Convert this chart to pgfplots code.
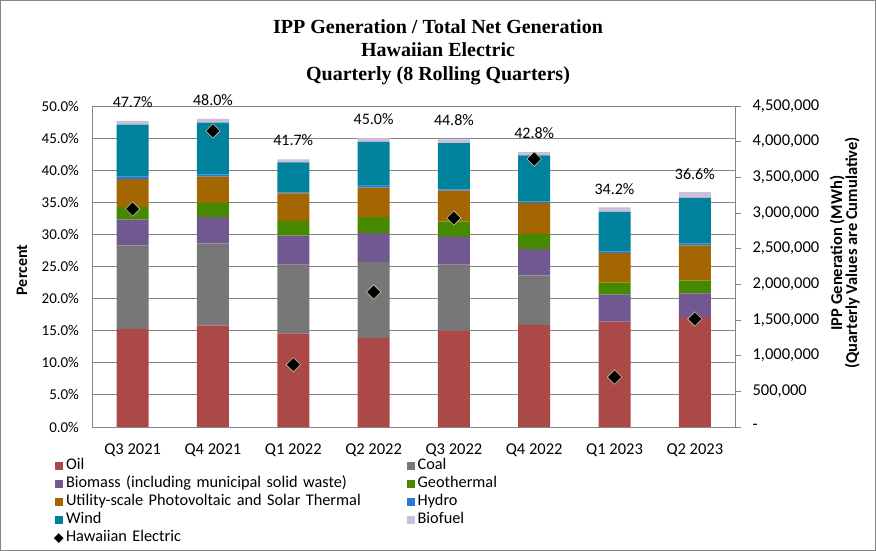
\documentclass[border=0pt]{standalone}
\usepackage{fontspec}
\setmainfont{Carlito}
\newfontfamily\titlefont{Liberation Serif}
\usepackage{pgfplots}
\pgfplotsset{compat=1.18}

\definecolor{oil}{RGB}{170,73,72}
\definecolor{coal}{RGB}{119,119,119}
\definecolor{biomass}{RGB}{113,88,145}
\definecolor{geo}{RGB}{70,136,0}
\definecolor{solar}{RGB}{163,102,0}
\definecolor{hydro}{RGB}{40,120,220}
\definecolor{wind}{RGB}{0,130,156}
\definecolor{biofuel}{RGB}{202,190,218}
\definecolor{axc}{RGB}{134,134,134}
\definecolor{diamc}{RGB}{200,200,160}

\begin{document}
\begin{tikzpicture}
\useasboundingbox (0pt,0pt) rectangle (876pt,551pt);
\draw[axc, line width=0.8pt] (0.5pt,0.5pt) rectangle (875.5pt,550.5pt);
\node[align=center, font=\titlefont\bfseries\fontsize{20}{23.5}\selectfont] at (438pt,499pt)
  {IPP Generation / Total Net Generation\\Hawaiian Electric\\Quarterly (8 Rolling Quarters)};

\begin{axis}[
    at={(92.5pt,124pt)}, anchor=south west,
    scale only axis, width=642.5pt, height=321pt,
    ybar stacked, bar width=32pt,
    xmin=-0.5, xmax=7.5, ymin=0, ymax=50,
    xtick={0,...,7},
    xticklabels={Q3 2021, Q4 2021, Q1 2022, Q2 2022, Q3 2022, Q4 2022, Q1 2023, Q2 2023},
    ytick={0,5,...,50},
    yticklabels={0.0\%,5.0\%,10.0\%,15.0\%,20.0\%,25.0\%,30.0\%,35.0\%,40.0\%,45.0\%,50.0\%},
    axis x line*=bottom, axis y line*=left,
    axis line style={axc, line width=0.8pt},
    major tick length=0pt,
    ymajorgrids, grid style={axc, line width=0.8pt},
    yticklabel style={xshift=-10pt, font=\fontsize{15}{18}\selectfont},
    xticklabel style={yshift=-13pt, font=\fontsize{16.5}{19}\selectfont},
    ylabel={Percent},
    ylabel style={at={(rel axis cs:-0.1097,0.489)}, anchor=center, font=\bfseries\fontsize{16}{19}\selectfont},
    every axis plot/.append style={draw=none,
        legend image code/.code={\fill[##1] (0pt,-4.3pt) rectangle (8.6pt,4.3pt);}},
    legend columns=2,
    legend cell align=left,
    legend style={draw=none, fill=none, at={(rel axis cs:-0.0647,-0.087)}, anchor=north west,
        font=\fontsize{16.3}{19}\selectfont,
        nodes={text width=338pt, text height=11pt, text depth=4pt, inner ysep=1.5pt, inner xsep=2.5pt},
        column sep=0pt, row sep=0pt},
]
\addplot[fill=oil] coordinates {(0,15.3) (1,15.8) (2,14.6) (3,13.9) (4,15.0) (5,15.9) (6,16.4) (7,17.1)};
\addlegendentry{Oil}
\addplot[fill=coal] coordinates {(0,13.0) (1,12.8) (2,10.7) (3,11.8) (4,10.3) (5,7.7) (6,0) (7,0)};
\addlegendentry{Coal}
\addplot[fill=biomass] coordinates {(0,4.0) (1,4.1) (2,4.5) (3,4.5) (4,4.3) (5,4.1) (6,4.2) (7,3.7)};
\addlegendentry{Biomass (including municipal solid waste)}
\addplot[fill=geo] coordinates {(0,2.0) (1,2.2) (2,2.3) (3,2.5) (4,2.4) (5,2.4) (6,1.9) (7,2.0)};
\addlegendentry{Geothermal}
\addplot[fill=solar] coordinates {(0,4.3) (1,4.1) (2,4.3) (3,4.6) (4,4.8) (5,4.8) (6,4.6) (7,5.5)};
\addlegendentry{Utility-scale Photovoltaic and Solar Thermal}
\addplot[fill=hydro] coordinates {(0,0.4) (1,0.3) (2,0.1) (3,0.3) (4,0.2) (5,0.2) (6,0.2) (7,0.3)};
\addlegendentry{Hydro}
\addplot[fill=wind] coordinates {(0,8.1) (1,8.1) (2,4.7) (3,6.8) (4,7.2) (5,7.2) (6,6.2) (7,7.1)};
\addlegendentry{Wind}
\addplot[fill=biofuel, point meta=explicit symbolic, nodes near coords,
    nodes near coords style={anchor=center, yshift=21pt, font=\fontsize{16}{19}\selectfont, black}]
    coordinates {(0,0.6) [47.7\%] (1,0.6) [48.0\%] (2,0.5) [41.7\%] (3,0.6) [45.0\%]
                 (4,0.6) [44.8\%] (5,0.5) [42.8\%] (6,0.7) [34.2\%] (7,0.9) [36.6\%]};
\addlegendentry{Biofuel}
\addlegendimage{legend image code/.code={\draw[black, fill=black] (4.3pt,4.5pt) -- (8.8pt,0pt) -- (4.3pt,-4.5pt) -- (-0.2pt,0pt) -- cycle;}}
\addlegendentry{Hawaiian Electric}
\end{axis}

\begin{axis}[
    at={(92.5pt,124pt)}, anchor=south west,
    scale only axis, width=642.5pt, height=321pt,
    xmin=-0.5, xmax=7.5, ymin=0, ymax=4500000,
    axis x line=none, axis y line*=right,
    axis line style={axc, line width=0.8pt},
    ytick={0,500000,...,4500000}, scaled y ticks=false,
    yticklabels={{-},{500,000},{1,000,000},{1,500,000},{2,000,000},{2,500,000},{3,000,000},{3,500,000},{4,000,000},{4,500,000}},
    tick align=outside, major tick length=6pt, tick style={axc, line width=0.8pt},
    yticklabel style={anchor=west, xshift=8pt, font=\fontsize{16.5}{19}\selectfont},
    ylabel={IPP Generation (MWh)\\(Quarterly Values are Cumulative)},
    ylabel style={align=center, at={(rel axis cs:1.171,0.542)}, anchor=center,
        font=\bfseries\fontsize{16.5}{15}\selectfont},
]
\addplot[only marks, mark=square*, mark size=5.1pt,
    mark options={rotate=45, fill=black, draw=diamc, line width=0.6pt}]
    coordinates {(0,3056000) (1,4150000) (2,873000) (3,1893000) (4,2930000) (5,3757000) (6,700000) (7,1514000)};
\end{axis}
\end{tikzpicture}
\end{document}
